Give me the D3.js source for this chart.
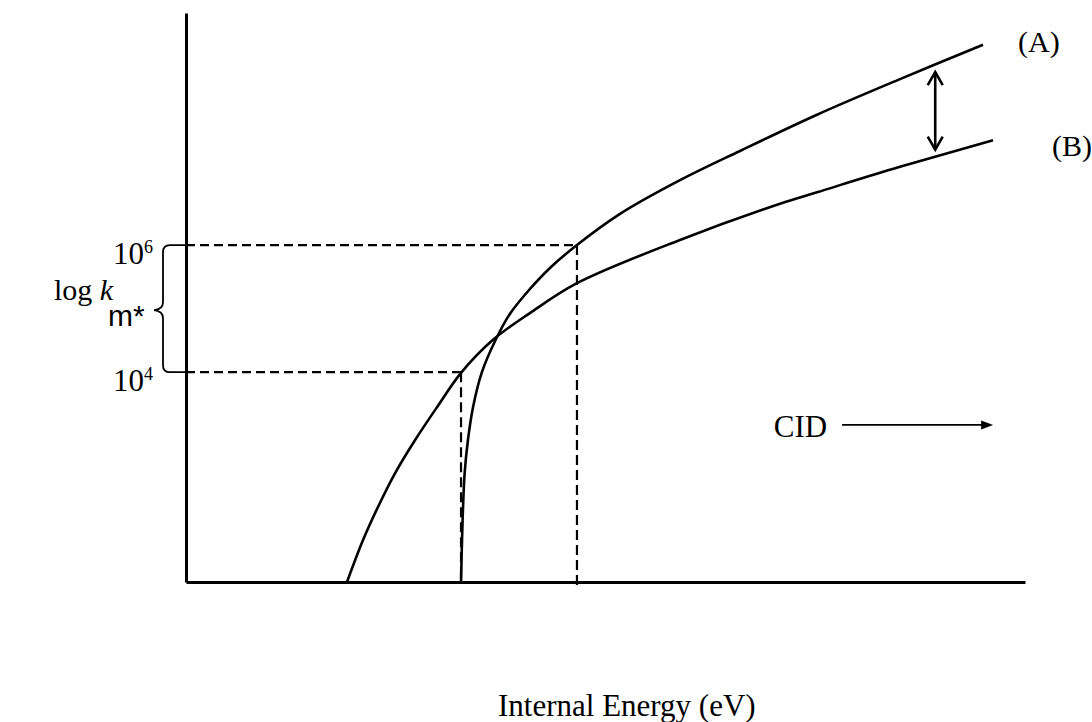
<!DOCTYPE html>
<html><head><meta charset="utf-8">
<script src="https://cdn.jsdelivr.net/npm/d3@7"></script>
<style>html,body{margin:0;padding:0;background:#fff}svg{display:block}</style>
</head><body>
<svg id="chart" width="1092" height="722"></svg>
<script>
// ---- data (energy in arbitrary units 0..100, y = log10 k) ----
const curveAEnergy = [32.78, 32.90, 33.02, 33.21, 33.60, 34.21, 35.24, 36.91, 38.62, 41.00, 43.38, 46.60, 51.73, 58.88, 66.03, 75.21, 85.10, 95.00];
const curveALogK   = [0.70, 1.36, 1.88, 2.41, 2.93, 3.45, 3.99, 4.51, 4.92, 5.31, 5.64, 6.00, 6.49, 7.02, 7.48, 8.05, 8.61, 9.15];
const curveBEnergy = [19.19, 21.10, 22.88, 24.91, 27.29, 29.92, 32.78, 36.59, 41.00, 46.60, 58.88, 70.80, 75.21, 85.10, 96.19];
const curveBLogK   = [0.70, 1.36, 1.88, 2.41, 2.93, 3.45, 3.99, 4.51, 4.93, 5.40, 6.08, 6.65, 6.83, 7.23, 7.65];
const levelLogK = [6, 4];
const levelBase = ["10", "10"];
const levelExp = ["6", "4"];
const levelEnergy = [46.60, 32.78];      // where A reaches 10^6, where B reaches 10^4
const seriesLabels = ["(A)", "(B)"];
const xTitle = "Internal Energy (eV)";
const yTitle = "log ";
const yTitleItalic = "k";
const braceLabel = "m*";
const cidLabel = "CID";
const gapArrowEnergy = 89.3;
const gapArrowLogK = [8.72, 7.50];
const cidArrowEnergy = [78.2, 96.2];
const cidArrowLogK = 3.17;

const svg = d3.select("#chart");
const x = d3.scaleLinear().domain([0, 100]).range([186, 1025]);
const y = d3.scaleLinear().domain([0.7, 9.65]).range([582, 13]);
const serif = "'Liberation Serif','Times New Roman',serif";

// axes (no ticks)
const gx = svg.append("g").attr("transform", `translate(0,${y(0.7)})`)
  .call(d3.axisBottom(x).tickValues([]).tickSizeOuter(0));
const gy = svg.append("g").attr("transform", `translate(${x(0)},0)`)
  .call(d3.axisLeft(y).tickValues([]).tickSizeOuter(0));
[gx, gy].forEach(g => g.select(".domain").attr("stroke", "#000").attr("stroke-width", 3));

// dashed guide lines
levelLogK.forEach((v, i) => {
  svg.append("line").attr("x1", x(0)).attr("x2", x(levelEnergy[i]))
    .attr("y1", y(v)).attr("y2", y(v))
    .attr("stroke", "#000").attr("stroke-width", 2.2).attr("stroke-dasharray", "9,5");
  svg.append("line").attr("x1", x(levelEnergy[i])).attr("x2", x(levelEnergy[i]))
    .attr("y1", y(v)).attr("y2", y(0.7) + (i === 0 ? 6 : 0))
    .attr("stroke", "#000").attr("stroke-width", 2.2).attr("stroke-dasharray", "10,5");
});

// curves
const line = d3.line().x(d => x(d[0])).y(d => y(d[1])).curve(d3.curveCatmullRom.alpha(0.5));
svg.append("path").datum(d3.zip(curveAEnergy, curveALogK)).attr("d", line)
  .attr("fill", "none").attr("stroke", "#000").attr("stroke-width", 2.6);
svg.append("path").datum(d3.zip(curveBEnergy, curveBLogK)).attr("d", line)
  .attr("fill", "none").attr("stroke", "#000").attr("stroke-width", 2.6);

// level labels 10^6, 10^4
levelLogK.forEach((v, i) => {
  const t = svg.append("text").attr("x", 153).attr("y", y(v) + 19)
    .attr("text-anchor", "end").attr("font-family", serif).attr("font-size", 31).attr("fill", "#000");
  t.append("tspan").text(levelBase[i]);
  t.append("tspan").attr("font-size", 18).attr("dy", -11).text(levelExp[i]);
});

// brace
const yt = y(levelLogK[0]), yb = y(levelLogK[1]), ym = (yt + yb) / 2 + 1.5;
const bx = 163, tip = 154;
svg.append("path")
  .attr("d", `M${x(0)},${yt} L${bx + 7},${yt} Q${bx},${yt} ${bx},${yt + 7} L${bx},${ym - 8} Q${bx},${ym - 1} ${tip},${ym} Q${bx},${ym + 1} ${bx},${ym + 8} L${bx},${yb - 7} Q${bx},${yb} ${bx + 7},${yb} L${x(0)},${yb}`)
  .attr("fill", "none").attr("stroke", "#000").attr("stroke-width", 1.8);

svg.append("text").attr("x", 108).attr("y", ym + 16)
  .attr("font-family", "'Liberation Sans',Arial,sans-serif").attr("font-size", 30).attr("fill", "#000").text(braceLabel);

const yl = svg.append("text").attr("x", 54).attr("y", ym - 10)
  .attr("font-family", serif).attr("font-size", 30).attr("fill", "#000");
yl.append("tspan").text(yTitle);
yl.append("tspan").attr("font-style", "italic").text(yTitleItalic);

// series labels
svg.append("text").attr("x", 1018).attr("y", 52).attr("font-family", serif).attr("font-size", 30).text(seriesLabels[0]);
svg.append("text").attr("x", 1052).attr("y", 156).attr("font-family", serif).attr("font-size", 30).text(seriesLabels[1]);

// double arrow between curves
const ax = x(gapArrowEnergy), ay1 = y(gapArrowLogK[0]), ay2 = y(gapArrowLogK[1]);
svg.append("line").attr("x1", ax).attr("x2", ax).attr("y1", ay1).attr("y2", ay2)
  .attr("stroke", "#000").attr("stroke-width", 2.6);
svg.append("path").attr("d", `M${ax - 7.5},${ay1 + 13} L${ax},${ay1} L${ax + 7.5},${ay1 + 13}`)
  .attr("fill", "none").attr("stroke", "#000").attr("stroke-width", 2.6);
svg.append("path").attr("d", `M${ax - 7.5},${ay2 - 13} L${ax},${ay2} L${ax + 7.5},${ay2 - 13}`)
  .attr("fill", "none").attr("stroke", "#000").attr("stroke-width", 2.6);

// CID arrow
const cy = y(cidArrowLogK), cx1 = x(cidArrowEnergy[0]), cx2 = x(cidArrowEnergy[1]);
svg.append("text").attr("x", cx1 - 15).attr("y", cy + 12).attr("text-anchor", "end")
  .attr("font-family", serif).attr("font-size", 31).text(cidLabel);
svg.append("line").attr("x1", cx1).attr("x2", cx2 - 8).attr("y1", cy).attr("y2", cy)
  .attr("stroke", "#000").attr("stroke-width", 1.8);
svg.append("path").attr("d", `M${cx2 - 12},${cy - 4.5} L${cx2},${cy} L${cx2 - 12},${cy + 4.5} Z`).attr("fill", "#000");

// x title
svg.append("text").attr("x", 498).attr("y", 716).attr("font-family", serif).attr("font-size", 31).text(xTitle);
</script>
</body></html>
